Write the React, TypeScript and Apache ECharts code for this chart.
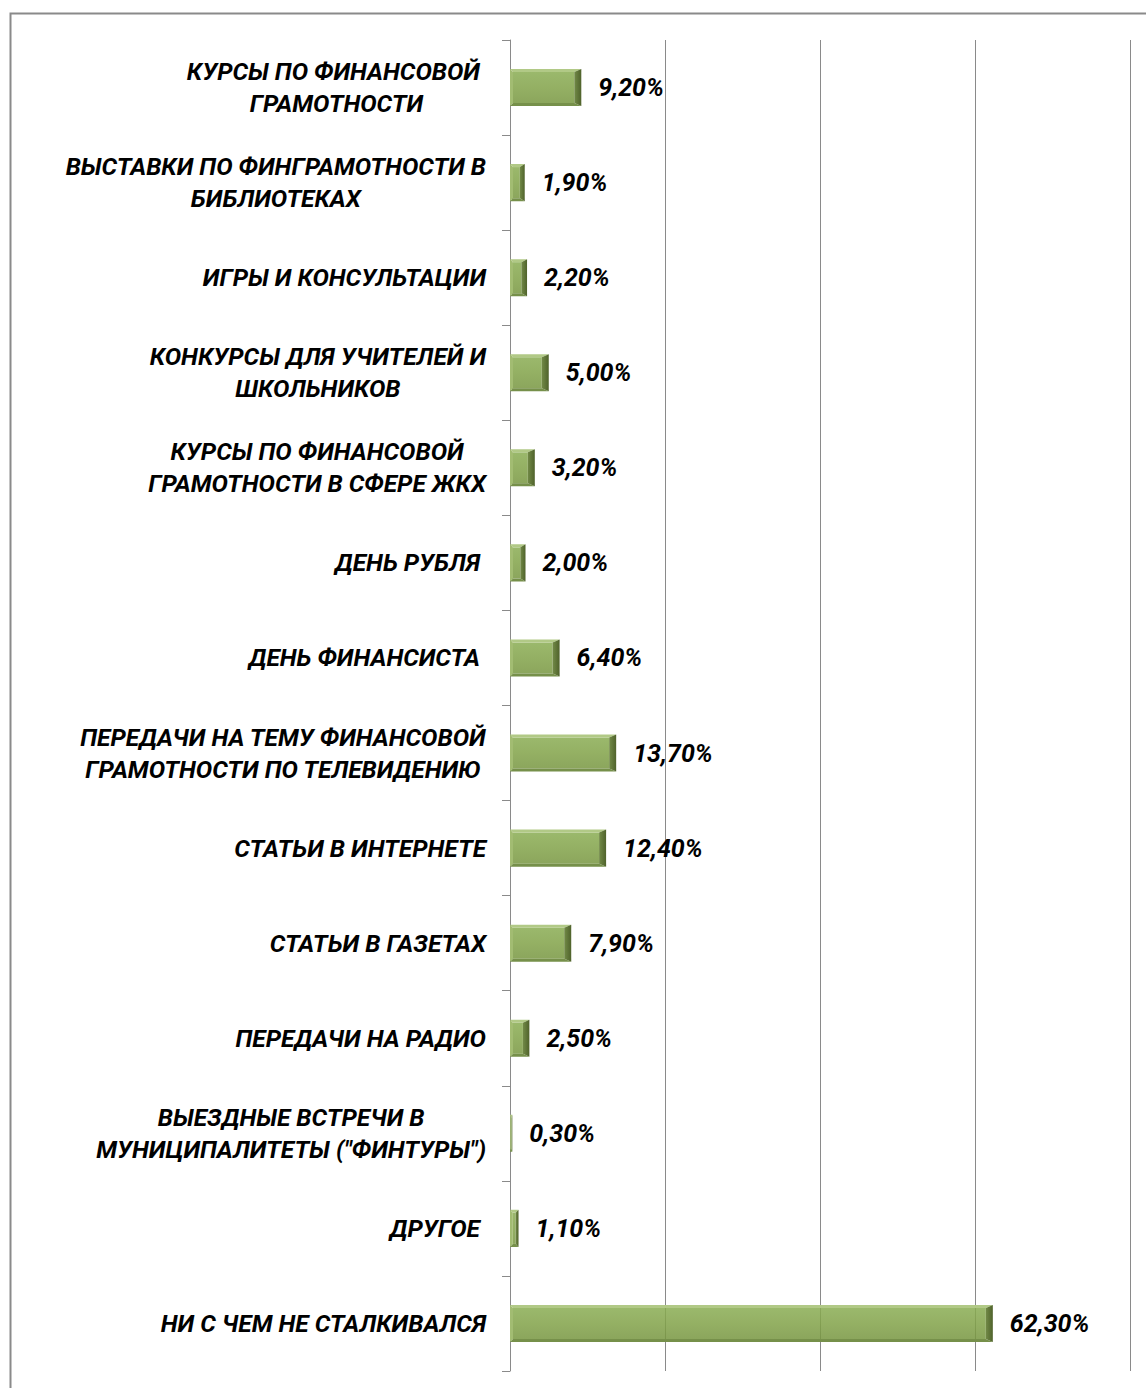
import React, { useEffect, useRef } from "react";
import * as echarts from "echarts";

const categories: string[] = [
  "КУРСЫ ПО ФИНАНСОВОЙ \nГРАМОТНОСТИ",
  "ВЫСТАВКИ ПО ФИНГРАМОТНОСТИ В\nБИБЛИОТЕКАХ",
  "ИГРЫ И КОНСУЛЬТАЦИИ",
  "КОНКУРСЫ ДЛЯ УЧИТЕЛЕЙ И\nШКОЛЬНИКОВ",
  "КУРСЫ ПО ФИНАНСОВОЙ\nГРАМОТНОСТИ В СФЕРЕ ЖКХ",
  "ДЕНЬ РУБЛЯ ",
  "ДЕНЬ ФИНАНСИСТА ",
  "ПЕРЕДАЧИ НА ТЕМУ ФИНАНСОВОЙ\nГРАМОТНОСТИ ПО ТЕЛЕВИДЕНИЮ",
  "СТАТЬИ В ИНТЕРНЕТЕ",
  "СТАТЬИ В ГАЗЕТАХ",
  "ПЕРЕДАЧИ НА РАДИО",
  "ВЫЕЗДНЫЕ ВСТРЕЧИ В\nМУНИЦИПАЛИТЕТЫ (\"ФИНТУРЫ\")",
  "ДРУГОЕ ",
  "НИ С ЧЕМ НЕ СТАЛКИВАЛСЯ",
];

const values: number[] = [9.2, 1.9, 2.2, 5.0, 3.2, 2.0, 6.4, 13.7, 12.4, 7.9, 2.5, 0.3, 1.1, 62.3];

const xMin = 0;
const xMax = 80;
const xInterval = 20;

const FONT = "Roboto, 'Open Sans', 'DejaVu Sans', sans-serif";

function fmt(v: number): string {
  return v.toFixed(2).replace(".", ",") + "%";
}

export default function App() {
  const ref = useRef<HTMLDivElement>(null);
  useEffect(() => {
    if (!ref.current) return;
    const chart = echarts.init(ref.current, undefined, { renderer: "svg" });
    const data = values.map((v, i) => [v, i]);
    chart.setOption({
      animation: false,
      backgroundColor: "#ffffff",
      graphic: [
        {
          type: "rect",
          left: 8,
          top: 11,
          shape: { width: 1300, height: 1500 },
          style: { fill: "none", stroke: "#8a8a8a", lineWidth: 2 },
          silent: true,
          z: -1,
        },
      ],
      grid: { left: 510, top: 40, right: 16, bottom: 17, containLabel: false },
      xAxis: {
        type: "value",
        min: xMin,
        max: xMax,
        interval: xInterval,
        axisLabel: { show: false },
        axisLine: { show: false },
        axisTick: { show: false },
        splitLine: { show: true, lineStyle: { color: "#8a8a8a", width: 1 } },
      },
      yAxis: {
        type: "category",
        data: categories,
        inverse: true,
        axisLine: { show: true, lineStyle: { color: "#8a8a8a", width: 1 } },
        axisTick: { show: true, inside: false, length: 8, lineStyle: { color: "#8a8a8a" } },
        splitLine: { show: false },
        axisLabel: {
          margin: 24,
          align: "right",
          formatter: (v: string) =>
            v
              .split("\n")
              .map((l) => `{c|${l}}`)
              .join("\n"),
          rich: {
            c: {
              align: "center",
              fontFamily: FONT,
              fontSize: 24.5,
              fontWeight: "bold",
              fontStyle: "italic",
              color: "#000000",
              lineHeight: 32,
            },
          },
        },
      },
      series: [
        {
          type: "custom",
          encode: { x: 0, y: 1 },
          data,
          renderItem: (params: any, api: any) => {
            const v = api.value(0);
            const idx = api.value(1);
            const start = api.coord([0, idx]);
            const end = api.coord([v, idx]);
            const band = api.size([0, 1])[1];
            const h = band * 0.39;
            const x0 = start[0];
            const x1 = end[0];
            const cy = end[1];
            const yT = cy - h / 2;
            const yB = cy + h / 2;
            const w = x1 - x0;
            const bT = Math.min(3, h / 2);
            const bB = Math.min(3, h / 2);
            const bL = Math.min(3, w / 3);
            const bR = Math.min(7, w / 3);
            const children: any[] = [
              {
                type: "rect",
                shape: { x: x0 + bL, y: yT + bT, width: Math.max(0, w - bL - bR), height: h - bT - bB },
                style: {
                  fill: new echarts.graphic.LinearGradient(0, 0, 0, 1, [
                    { offset: 0, color: "rgba(137,172,82,0.85)" },
                    { offset: 0.5, color: "rgba(129,162,72,0.85)" },
                    { offset: 1, color: "rgba(119,150,64,0.85)" },
                  ]),
                },
              },
              {
                type: "polygon",
                shape: { points: [[x0, yT], [x1, yT], [x1 - bR, yT + bT], [x0 + bL, yT + bT]] },
                style: { fill: "#b1c986" },
              },
              {
                type: "polygon",
                shape: { points: [[x0, yT], [x0 + bL, yT + bT], [x0 + bL, yB - bB], [x0, yB]] },
                style: { fill: "#a2bc72" },
              },
              {
                type: "polygon",
                shape: { points: [[x0, yB], [x0 + bL, yB - bB], [x1 - bR, yB - bB], [x1, yB]] },
                style: { fill: "#76904a" },
              },
              {
                type: "polygon",
                shape: { points: [[x1, yT], [x1, yB], [x1 - bR, yB - bB], [x1 - bR, yT + bT]] },
                style: {
                  fill: new echarts.graphic.LinearGradient(0, 0, 1, 0, [
                    { offset: 0, color: "#728a47" },
                    { offset: 1, color: "#4f622b" },
                  ]),
                },
              },
              {
                type: "text",
                x: x1 + 17,
                y: cy,
                style: {
                  text: fmt(v),
                  fontFamily: FONT,
                  fontSize: 25,
                  fontWeight: "bold",
                  fontStyle: "italic",
                  fill: "#000000",
                  align: "left",
                  verticalAlign: "middle",
                },
              },
            ];
            return { type: "group", children };
          },
          z: 3,
        },
      ],
    });
    return () => chart.dispose();
  }, []);
  return (
    <div
      ref={ref}
      style={{ position: "fixed", left: 0, top: 0, width: 1146, height: 1388, background: "#fff" }}
    />
  );
}
